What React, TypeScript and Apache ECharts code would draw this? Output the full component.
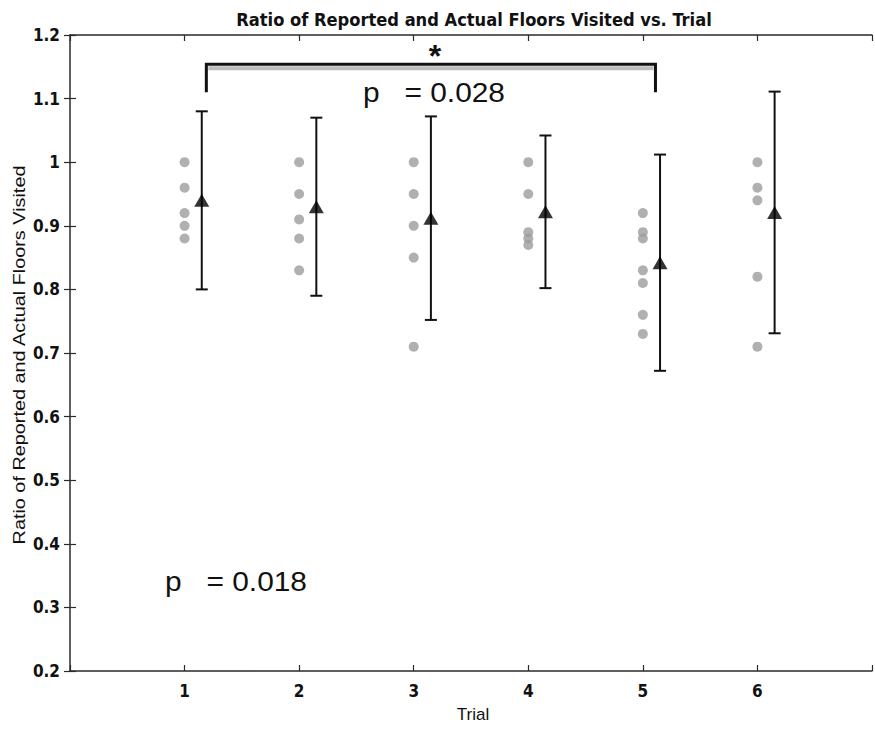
import React, { useEffect, useRef } from "react";
import * as echarts from "echarts";

// Individual ratios per trial (grey dots)
const trials = [1, 2, 3, 4, 5, 6];
const trial1 = [1.0, 0.96, 0.92, 0.9, 0.88];
const trial2 = [1.0, 0.95, 0.91, 0.88, 0.83];
const trial3 = [1.0, 0.95, 0.9, 0.85, 0.71];
const trial4 = [1.0, 0.95, 0.89, 0.88, 0.87];
const trial5 = [0.92, 0.89, 0.88, 0.83, 0.81, 0.76, 0.73];
const trial6 = [1.0, 0.96, 0.94, 0.82, 0.71];
const perTrial = [trial1, trial2, trial3, trial4, trial5, trial6];

// Group means and standard deviations (black triangles with error bars)
const means = [0.94, 0.93, 0.912, 0.922, 0.842, 0.921];
const sds = [0.14, 0.14, 0.16, 0.12, 0.17, 0.19];
const meanOffset = 0.15;

// Significance bracket between trial 1 and trial 5: [x start, x end, top, foot]
const bracket = [1.19, 5.11, 1.154, 1.11];

const titleText = "Ratio of Reported and Actual Floors Visited vs. Trial";
const xName = "Trial";
const yName = "Ratio of Reported and Actual Floors Visited";
const pBracket = "p   = 0.028";
const pOverall = "p   = 0.018";

const CONDENSED = "'DejaVu Sans Condensed', 'Liberation Sans', Arial, sans-serif";
const SANS = "'Liberation Sans', Arial, sans-serif";

// Horizontal scale that makes a string occupy a given width
function fitScale(text: string, font: string, width: number): number {
  const ctx = document.createElement("canvas").getContext("2d");
  if (!ctx) return 1;
  ctx.font = font;
  const w = ctx.measureText(text).width;
  return w > 0 ? width / w : 1;
}

export default function App() {
  const ref = useRef<HTMLDivElement>(null);

  useEffect(() => {
    if (!ref.current) return;
    const chart = echarts.init(ref.current, null, { renderer: "svg" });

    const dotData: number[][] = [];
    perTrial.forEach((vals, i) => vals.forEach((v) => dotData.push([trials[i], v])));
    const meanData = trials.map((t, i) => [t + meanOffset, means[i]]);
    const errData = trials.map((t, i) => [t + meanOffset, means[i], sds[i]]);

    const lineColor = "#2a2a2a";
    const axisLine = { show: true, lineStyle: { color: lineColor, width: 1.5 } };
    const tick = { show: true, inside: true, length: 6, lineStyle: { color: lineColor, width: 1.2 } };
    const tickFont = {
      fontFamily: CONDENSED,
      fontWeight: "bold" as const,
      fontSize: 17,
      color: "#111",
    };

    const titleScale = fitScale(titleText, `bold 17.5px 'DejaVu Sans Condensed'`, 476);
    const yNameScale = fitScale(yName, `17px 'Liberation Sans'`, 380);
    const pBracketScale = fitScale(pBracket, `28px 'Liberation Sans'`, 142);
    const pOverallScale = fitScale(pOverall, `28px 'Liberation Sans'`, 142);

    chart.setOption({
      animation: false,
      backgroundColor: "#ffffff",
      grid: { left: 70, right: -2, top: 35, bottom: 58 },
      xAxis: [
        {
          type: "value",
          min: 0,
          max: 7,
          interval: 1,
          position: "bottom",
          axisLine,
          axisTick: tick,
          splitLine: { show: false },
          axisLabel: {
            ...tickFont,
            formatter: (v: number) => (v >= 1 && v <= 6 ? String(v) : ""),
            margin: 11,
          },
        },
        {
          type: "value",
          min: 0,
          max: 7,
          interval: 1,
          position: "top",
          axisLine,
          axisTick: tick,
          splitLine: { show: false },
          axisLabel: { show: false },
        },
      ],
      yAxis: [
        {
          type: "value",
          min: 0.2,
          max: 1.2,
          interval: 0.1,
          position: "left",
          axisLine,
          axisTick: tick,
          splitLine: { show: false },
          axisLabel: {
            ...tickFont,
            formatter: (v: number) => String(Number(v.toFixed(1))),
            margin: 10,
          },
        },
        {
          type: "value",
          min: 0.2,
          max: 1.2,
          interval: 0.1,
          position: "right",
          axisLine: { show: false },
          axisTick: tick,
          splitLine: { show: false },
          axisLabel: { show: false },
        },
      ],
      series: [
        {
          type: "scatter",
          data: dotData,
          symbol: "circle",
          symbolSize: 10,
          itemStyle: { color: "#9c9c9c" },
          z: 2,
        },
        {
          type: "custom",
          data: errData,
          z: 3,
          renderItem: (params: any, api: any) => {
            const x = api.value(0);
            const m = api.value(1);
            const e = api.value(2);
            const top = api.coord([x, m + e]);
            const bot = api.coord([x, m - e]);
            const style = { stroke: "#111", lineWidth: 2 };
            return {
              type: "group",
              children: [
                { type: "line", shape: { x1: top[0], y1: top[1], x2: bot[0], y2: bot[1] }, style },
                { type: "line", shape: { x1: top[0] - 6, y1: top[1], x2: top[0] + 6, y2: top[1] }, style },
                { type: "line", shape: { x1: bot[0] - 6, y1: bot[1], x2: bot[0] + 6, y2: bot[1] }, style },
              ],
            };
          },
        },
        {
          type: "scatter",
          data: meanData,
          symbol: "triangle",
          symbolSize: [15, 13],
          itemStyle: { color: "#000" },
          z: 4,
        },
        {
          type: "custom",
          data: [bracket],
          z: 5,
          renderItem: (params: any, api: any) => {
            const x0 = api.value(0);
            const x1 = api.value(1);
            const yTop = api.value(2);
            const yFoot = api.value(3);
            const a = api.coord([x0, yFoot]);
            const b = api.coord([x0, yTop]);
            const c = api.coord([x1, yTop]);
            const d = api.coord([x1, yFoot]);
            return {
              type: "group",
              children: [
                {
                  type: "line",
                  shape: { x1: b[0] + 2, y1: b[1] + 4, x2: c[0] - 2, y2: c[1] + 4 },
                  style: { stroke: "#bdbdbd", lineWidth: 4 },
                },
                {
                  type: "polyline",
                  shape: { points: [a, b, c, d] },
                  style: { stroke: "#111", lineWidth: 3, fill: "none" },
                },
              ],
            };
          },
        },
      ],
      graphic: [
        {
          type: "text",
          x: 474,
          y: 20,
          scaleX: titleScale,
          style: {
            text: titleText,
            align: "center",
            verticalAlign: "middle",
            fontFamily: CONDENSED,
            fontWeight: "bold",
            fontSize: 17.5,
            fill: "#111",
          },
        },
        {
          type: "text",
          x: 473,
          y: 714,
          style: {
            text: xName,
            align: "center",
            verticalAlign: "middle",
            fontFamily: SANS,
            fontSize: 17,
            fill: "#111",
          },
        },
        {
          type: "text",
          x: 19,
          y: 355,
          rotation: Math.PI / 2,
          scaleX: yNameScale,
          style: {
            text: yName,
            align: "center",
            verticalAlign: "middle",
            fontFamily: SANS,
            fontSize: 17,
            fill: "#111",
          },
        },
        {
          type: "text",
          x: 435,
          y: 56,
          style: {
            text: "*",
            align: "center",
            verticalAlign: "middle",
            fontFamily: SANS,
            fontWeight: "bold",
            fontSize: 32,
            fill: "#111",
          },
        },
        {
          type: "text",
          x: 363,
          y: 92,
          scaleX: pBracketScale,
          style: {
            text: pBracket,
            align: "left",
            verticalAlign: "middle",
            fontFamily: SANS,
            fontSize: 28,
            fill: "#111",
          },
        },
        {
          type: "text",
          x: 165,
          y: 581,
          scaleX: pOverallScale,
          style: {
            text: pOverall,
            align: "left",
            verticalAlign: "middle",
            fontFamily: SANS,
            fontSize: 28,
            fill: "#111",
          },
        },
      ],
    });

    return () => chart.dispose();
  }, []);

  return (
    <div
      ref={ref}
      style={{ position: "absolute", left: 0, top: 0, width: 875, height: 729 }}
    />
  );
}
